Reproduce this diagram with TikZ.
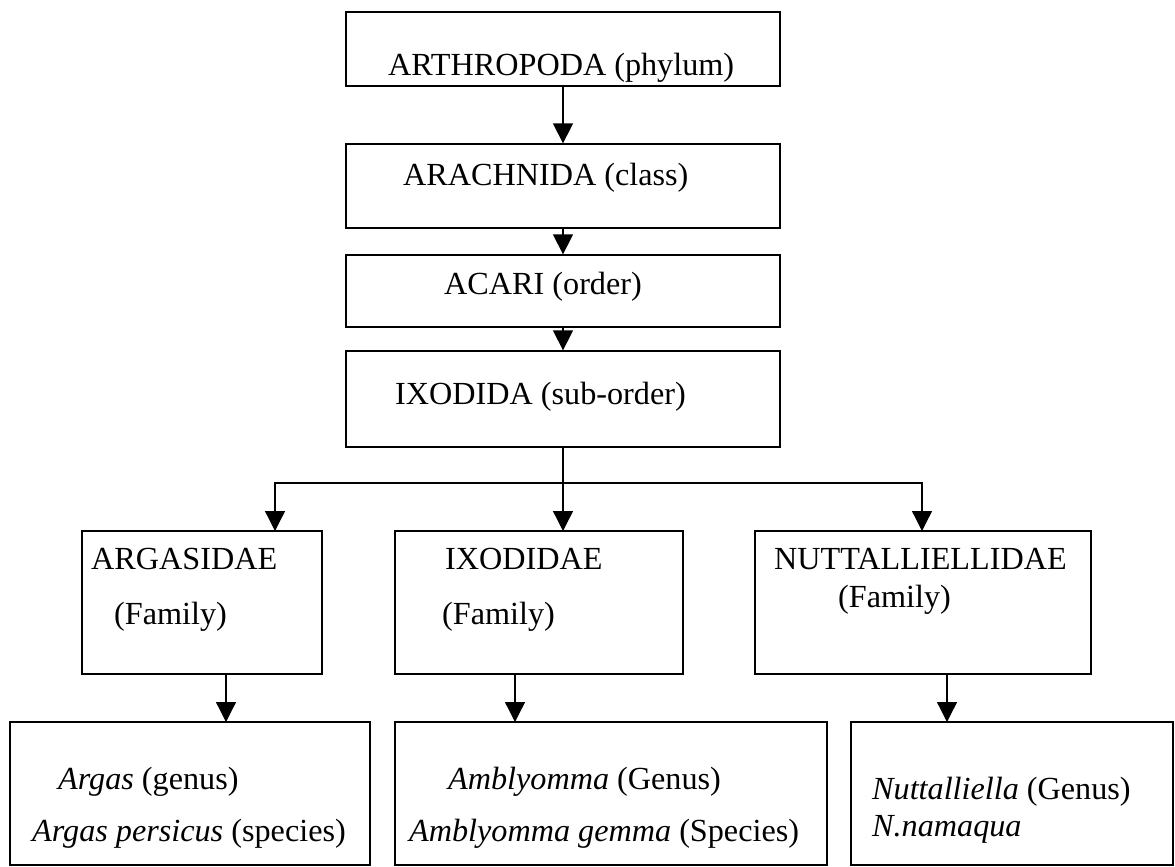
\documentclass[tikz,border=0pt]{standalone}
\usepackage{fontspec}
\setmainfont{Liberation Serif}
\usetikzlibrary{arrows.meta}
\begin{document}
\begin{tikzpicture}[x=1pt,y=-1pt,
  boxnode/.style={draw=black, line width=1.3pt, rectangle, inner sep=0pt},
  lbl/.style={anchor=base west, inner sep=0pt, font=\fontsize{32.2}{36}\selectfont},
  conn/.style={line width=1.3pt, draw=black},
  arr/.style={conn, -{Triangle[width=20pt,length=20pt]}}]
\useasboundingbox (0,0) rectangle (1175,867);
% boxes
\node[boxnode, minimum width=434pt, minimum height=74pt] (b1) at (563,49) {};
\node[boxnode, minimum width=434pt, minimum height=84pt] (b2) at (563,186) {};
\node[boxnode, minimum width=434pt, minimum height=72pt] (b3) at (563,291) {};
\node[boxnode, minimum width=434pt, minimum height=96pt] (b4) at (563,399) {};
\node[boxnode, minimum width=240pt, minimum height=143pt] (b5) at (202,602.5) {};
\node[boxnode, minimum width=288pt, minimum height=143pt] (b6) at (539,602.5) {};
\node[boxnode, minimum width=336pt, minimum height=143pt] (b7) at (923,602.5) {};
\node[boxnode, minimum width=360pt, minimum height=143pt] (b8) at (190,793.5) {};
\node[boxnode, minimum width=432pt, minimum height=143pt] (b9) at (611,793.5) {};
\node[boxnode, minimum width=322pt, minimum height=143pt] (b10) at (1012,793.5) {};
% labels
\node[lbl] (t1) at (388,75) {ARTHROPODA (phylum)};
\node[lbl] (t2) at (403,185) {ARACHNIDA (class)};
\node[lbl] (t3) at (444,294) {ACARI (order)};
\node[lbl] (t4) at (395,404) {IXODIDA (sub-order)};
\node[lbl] (t5a) at (91,569) {ARGASIDAE};
\node[lbl] (t5b) at (114,624) {(Family)};
\node[lbl] (t6a) at (445,569) {IXODIDAE};
\node[lbl] (t6b) at (442,624) {(Family)};
\node[lbl] (t7a) at (774,569) {NUTTALLIELLIDAE};
\node[lbl] (t7b) at (838,607) {(Family)};
\node[lbl] (t8a) at (58,789) {\textit{Argas} (genus)};
\node[lbl] (t8b) at (32,841) {\textit{Argas persicus} (species)};
\node[lbl] (t9a) at (448,789) {\textit{Amblyomma} (Genus)};
\node[lbl] (t9b) at (409,841) {\textit{Amblyomma gemma} (Species)};
\node[lbl] (t10a) at (872,799) {\textit{Nuttalliella} (Genus)};
\node[lbl] (t10b) at (872,836) {\textit{N.namaqua}};
% connectors
\draw[arr] (b1.south) -- (b2.north);
\draw[arr] (b2.south) -- (b3.north);
\draw[arr] (b3.south) -- (b4.north);
\coordinate (j) at (563,483);
\coordinate (p5) at (275,531);
\coordinate (p6) at (563,531);
\coordinate (p7) at (922,531);
\draw[conn] (b4.south) -- (j);
\draw[arr] (j) -| (p5);
\draw[arr] (j) -- (p6);
\draw[arr] (j) -| (p7);
\coordinate (q8) at (226,722);
\coordinate (q9) at (515,722);
\coordinate (q10) at (947,722);
\draw[arr] (b5.south -| q8) -- (q8);
\draw[arr] (b6.south -| q9) -- (q9);
\draw[arr] (b7.south -| q10) -- (q10);
\end{tikzpicture}
\end{document}
